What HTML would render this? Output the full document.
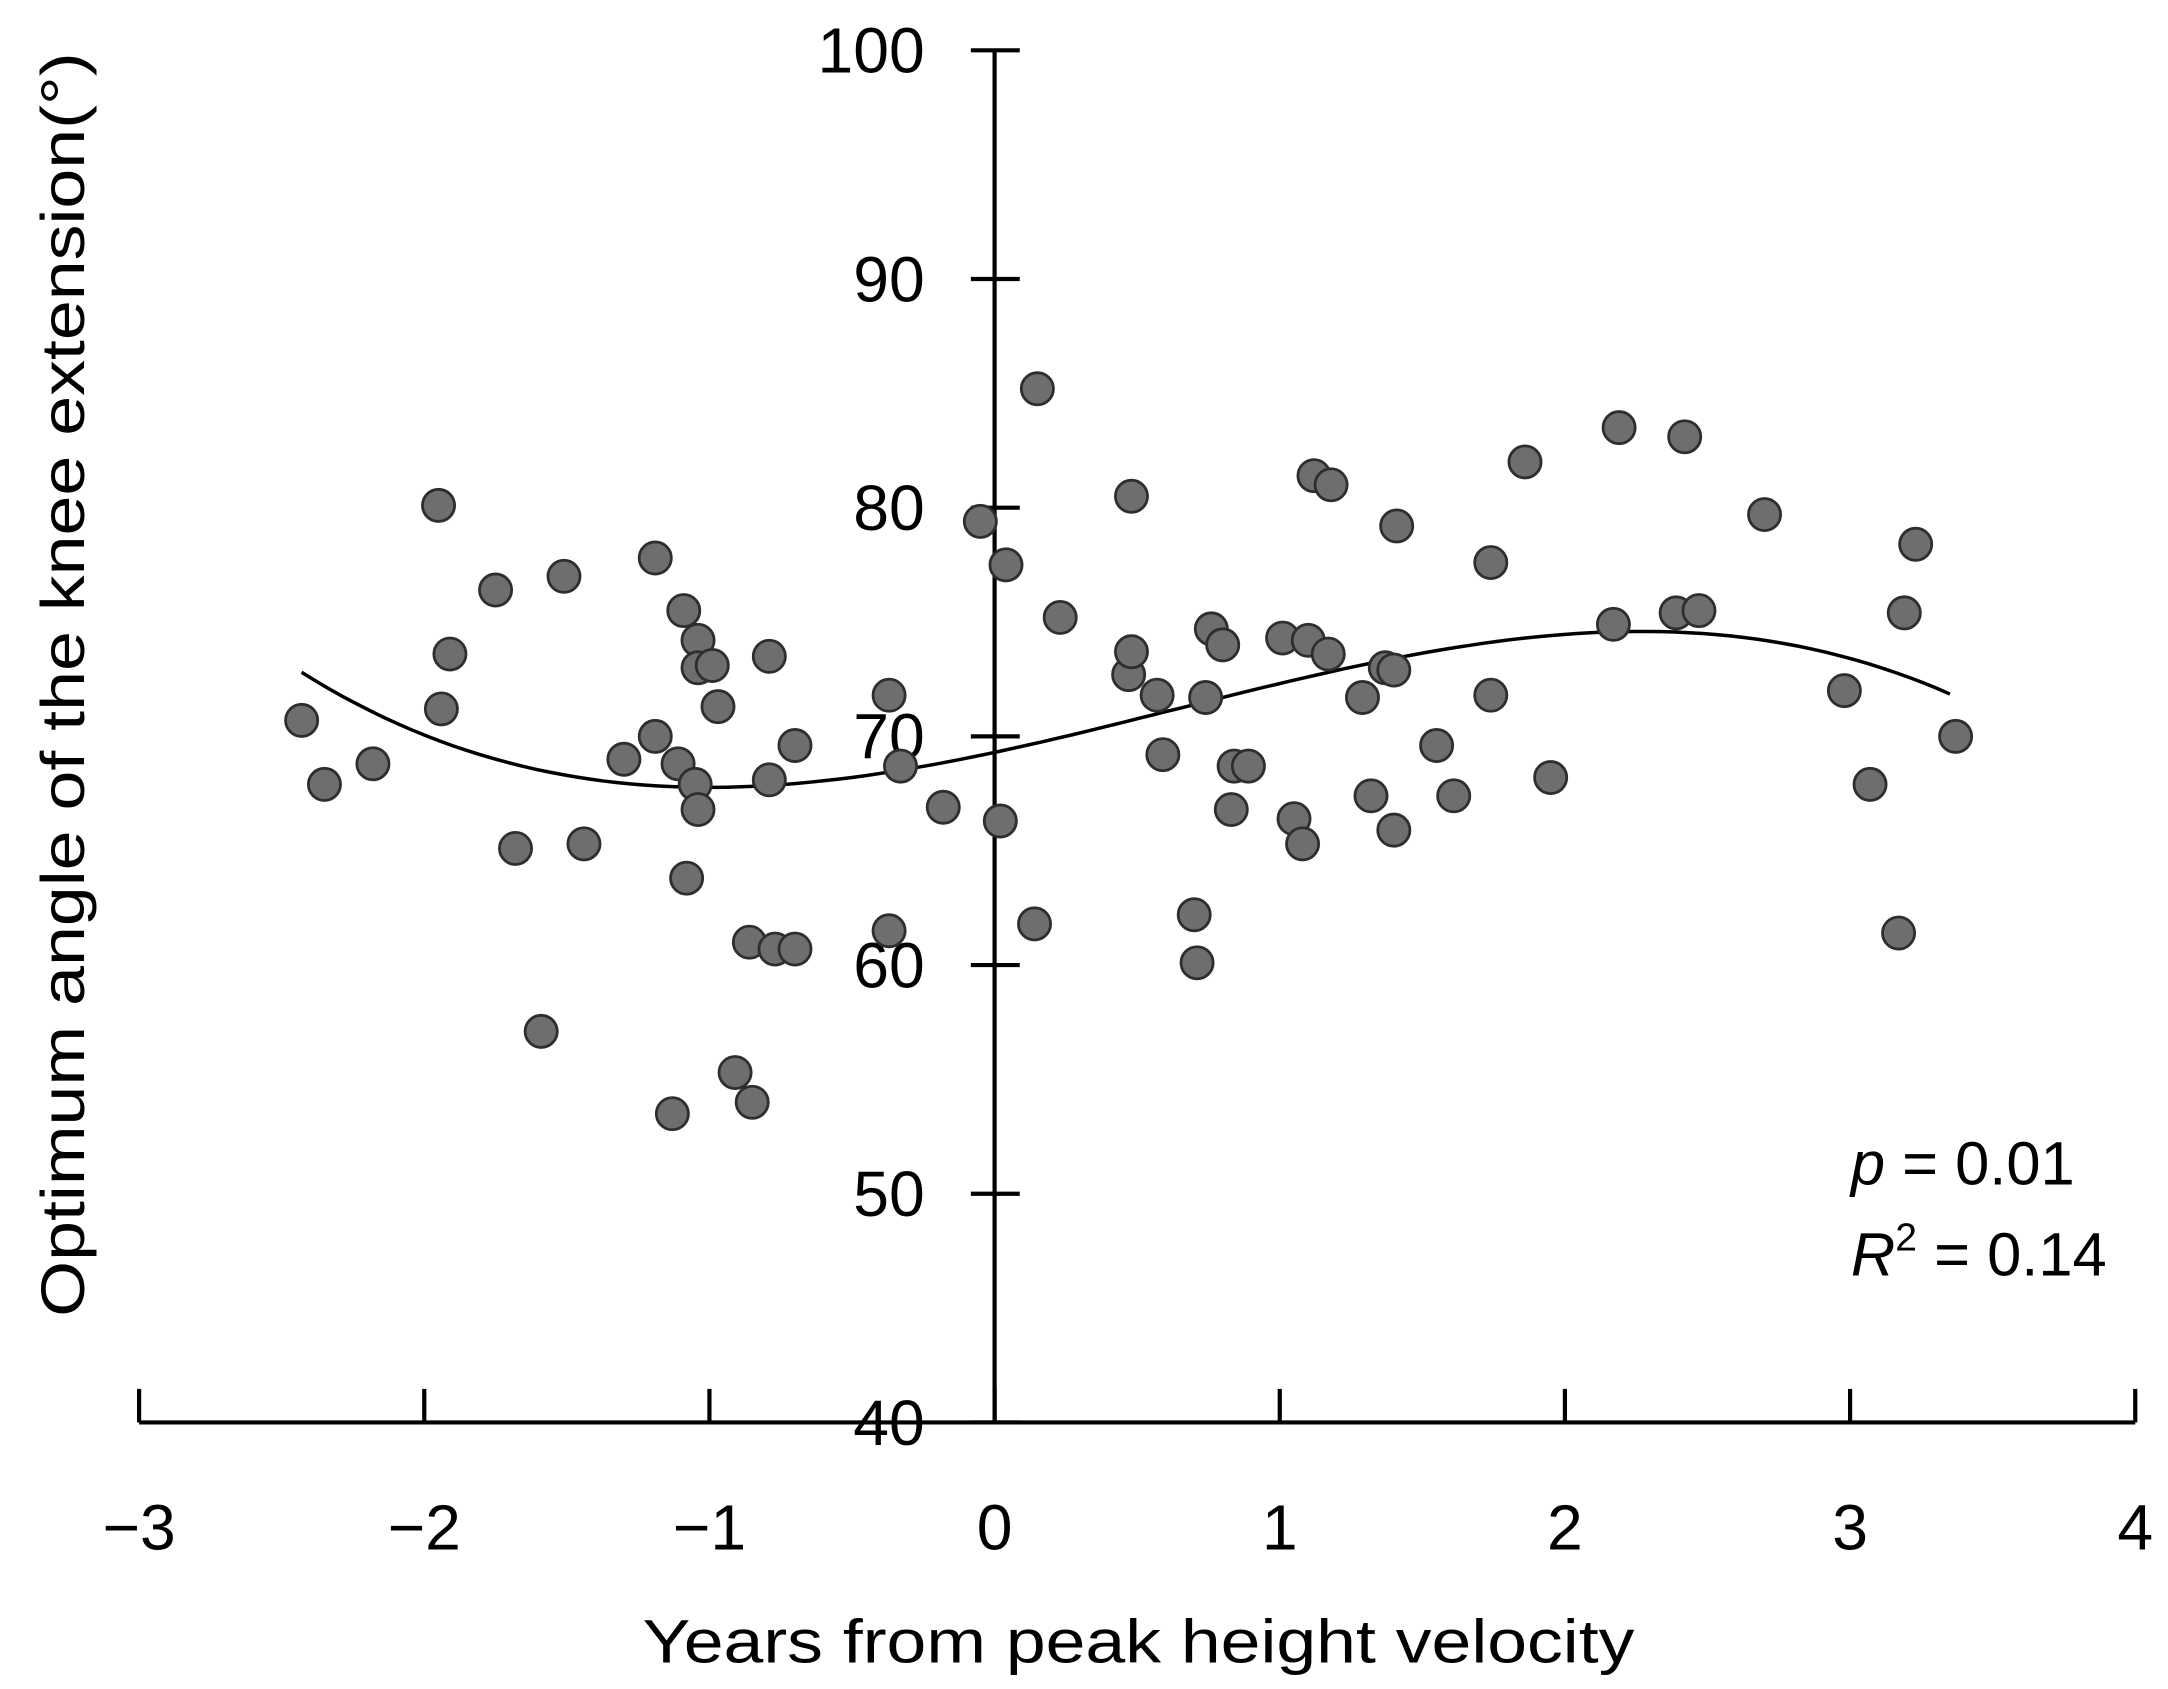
<!DOCTYPE html>
<html><head><meta charset="utf-8"><style>
html,body{margin:0;padding:0;background:#fff;}
svg{display:block;}
text{font-family:"Liberation Sans",sans-serif;fill:#000;}
</style></head><body>
<svg id="chart" width="2168" height="1689" viewBox="0 0 1552 1209" preserveAspectRatio="none" xmlns="http://www.w3.org/2000/svg">
<g id="axes"></g>
<g id="curve"></g>
<g id="points"></g>
<text transform="translate(60,490) rotate(-90)" text-anchor="middle" font-size="44" textLength="905" lengthAdjust="spacingAndGlyphs">Optimum angle of the knee extension(°)</text>
<text x="815" y="1190" text-anchor="middle" font-size="44" textLength="710" lengthAdjust="spacingAndGlyphs">Years from peak height velocity</text>
<text x="1325" y="848" font-size="44"><tspan font-style="italic">p</tspan><tspan>  = 0.01</tspan></text>
<text x="1325" y="913" font-size="44"><tspan font-style="italic">R</tspan><tspan font-size="28" dy="-18">2</tspan><tspan dy="18"> = 0.14</tspan></text>
</svg>
<script>
const xVals=[-2.43,-2.35,-2.18,-1.95,-1.94,-1.91,-1.75,-1.68,-1.59,-1.51,-1.44,-1.30,-1.19,-1.19,-1.13,-1.11,-1.09,-1.08,-1.05,-1.04,-1.04,-1.04,-0.99,-0.97,-0.91,-0.86,-0.85,-0.79,-0.79,-0.77,-0.70,-0.70,-0.37,-0.37,-0.33,-0.18,-0.05,0.02,0.04,0.14,0.15,0.23,0.47,0.48,0.48,0.57,0.59,0.70,0.71,0.74,0.76,0.80,0.83,0.84,0.89,1.01,1.05,1.08,1.10,1.12,1.17,1.18,1.29,1.32,1.37,1.40,1.40,1.41,1.55,1.61,1.74,1.74,1.86,1.95,2.17,2.19,2.39,2.42,2.47,2.70,2.98,3.07,3.17,3.23,3.19,3.37];
const yVals=[70.7,67.9,68.8,80.1,71.2,73.6,76.4,65.1,57.1,77.0,65.3,69.0,77.8,70.0,53.5,68.8,75.5,63.8,67.9,74.2,66.8,73.0,73.1,71.3,55.3,61.0,54.0,73.5,68.1,60.7,60.7,69.6,61.5,71.8,68.7,66.9,79.4,66.3,77.5,61.8,85.2,75.2,72.7,80.5,73.7,71.8,69.2,62.2,60.1,71.7,74.7,74.0,66.8,68.7,68.7,74.3,66.4,65.3,74.2,81.4,73.6,81.0,71.7,67.4,73.0,72.9,65.9,79.2,69.6,67.4,77.6,71.8,82.0,68.2,74.9,83.5,75.4,83.1,75.5,79.7,72.0,67.9,61.4,78.4,75.4,70.0];
const xTicks=[-3,-2,-1,0,1,2,3,4];
const xTickLabels=["\u22123","\u22122","\u22121","0","1","2","3","4"];
const yTicks=[40,50,60,70,80,90,100];
const yTickLabels=["40","50","60","70","80","90","100"];
const fitCoeffs=[69.3,2.66,0.74,-0.39];
const fitRange=[-2.43,3.35];

const NS="http://www.w3.org/2000/svg";
const X=v=>712+(v-0)*204.14;
const Y=v=>36+(100-v)*16.37;
function mk(tag,attrs,parent){const e=document.createElementNS(NS,tag);for(const k in attrs)e.setAttribute(k,attrs[k]);parent.appendChild(e);return e;}
const axes=document.getElementById('axes');
let l=mk('line',{x1:X(-3),y1:Y(40),x2:X(4),y2:Y(40),stroke:'#000','stroke-width':3},axes);


l=mk('line',{x1:X(0),y1:Y(100),x2:X(0),y2:Y(40),stroke:'#000','stroke-width':3},axes);


xTicks.forEach((t,i)=>{
  const tk=mk('line',{x1:X(t),y1:Y(40),x2:X(t),y2:Y(40)-24,stroke:'#000','stroke-width':3},axes);
  
  
  const tx=mk('text',{x:X(t),y:1109,'text-anchor':'middle','font-size':46},axes);
  tx.textContent=xTickLabels[i];
  
  
});
yTicks.forEach((t,i)=>{
  const tk=mk('line',{x1:X(0)-17,y1:Y(t),x2:X(0)+18,y2:Y(t),stroke:'#000','stroke-width':3},axes);
  
  
  const tx=mk('text',{x:662,y:Y(t)+16,'text-anchor':'end','font-size':46},axes);
  tx.textContent=yTickLabels[i];
  
  
});
let d='';
for(let i=0;i<=120;i++){
  const x=fitRange[0]+(fitRange[1]-fitRange[0])*i/120;
  const y=fitCoeffs[0]+fitCoeffs[1]*x+fitCoeffs[2]*x*x+fitCoeffs[3]*x*x*x;
  d+=(i?'L':'M')+X(x).toFixed(1)+','+Y(y).toFixed(1);
}
const path=mk('path',{d:d,fill:'none',stroke:'#000','stroke-width':2.5},document.getElementById('curve'));


const pg=document.getElementById('points');
xVals.forEach((x,i)=>{
  const c=mk('circle',{cx:X(x),cy:Y(yVals[i]),r:11.5,fill:'#6e6e6e',stroke:'#2e2e2e','stroke-width':2},pg);
  
  
});
</script>
</body></html>
